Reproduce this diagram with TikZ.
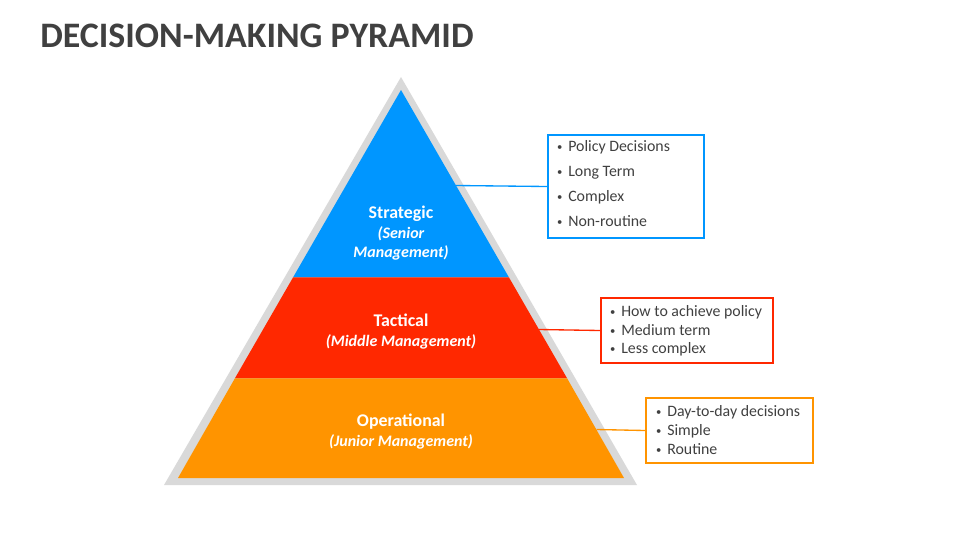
\documentclass[tikz,border=0pt]{standalone}
\usepackage{fontspec}
\setmainfont{Carlito}
\definecolor{stratblue}{RGB}{0,150,255}
\definecolor{tactred}{RGB}{255,40,0}
\definecolor{operorange}{RGB}{255,148,0}
\definecolor{pyrgray}{RGB}{217,217,217}
\definecolor{inkgray}{RGB}{64,64,64}
\tikzset{
  levellabel/.style={anchor=base,inner sep=0pt,text=white,font=\fontsize{13.4}{15}\selectfont\bfseries},
  levelsub/.style={levellabel,font=\fontsize{12}{14}\selectfont\bfseries\itshape},
  infobox/.style={draw=#1,line width=1.5pt,anchor=north west,inner sep=0pt},
  infoline/.style={anchor=base west,inner sep=0pt,text=inkgray,font=\fontsize{11.9}{13}\selectfont},
  linkline/.style={draw=#1,line width=1pt}
}
\newcommand{\bul}{\makebox[9pt][l]{\hspace{0.6pt}\raisebox{0.6pt}{\fontsize{8}{8}\selectfont\textbullet}}}
\begin{document}
\begin{tikzpicture}[x=0.75pt,y=-0.75pt]
\useasboundingbox (0,0) rectangle (960,540);

\node[anchor=base west,inner sep=0pt,text=inkgray,font=\fontsize{26.9}{32}\selectfont\bfseries] (title) at (40,47) {DECISION-MAKING PYRAMID};

% pyramid
\draw[fill=pyrgray,draw=none] (401,77) -- (637,485) -- (164,485) -- cycle;
\draw[fill=stratblue,draw=none] (401,90) -- (508.9,277.3) -- (293.1,277.3) -- cycle;
\draw[fill=tactred,draw=none] (293.1,277.3) -- (508.9,277.3) -- (567.1,378.3) -- (234.9,378.3) -- cycle;
\draw[fill=operorange,draw=none] (234.9,378.3) -- (567.1,378.3) -- (624,478) -- (178,478) -- cycle;

\node[levellabel] (strat) at (401,218) {Strategic};
\node[levelsub] (stratsub1) at (401,238) {(Senior};
\node[levelsub] (stratsub2) at (401,257) {Management)};
\node[levellabel] (tact) at (401,326) {Tactical};
\node[levelsub] (tactsub) at (401,346) {(Middle Management)};
\node[levellabel] (oper) at (401,426) {Operational};
\node[levelsub] (opersub) at (401,446) {(Junior Management)};

% side boxes
\node[infobox=stratblue,minimum width=117pt,minimum height=77.25pt] (sbox) at (547,134) {};
\node[infoline] (s1) at (556,151.7) {\bul Policy Decisions};
\node[infoline] (s2) at (556,176.7) {\bul Long Term};
\node[infoline] (s3) at (556,201.7) {\bul Complex};
\node[infoline] (s4) at (556,226.7) {\bul Non-routine};

\node[infobox=tactred,minimum width=129pt,minimum height=48.75pt] (tbox) at (600,297) {};
\node[infoline] (t1) at (609,316.7) {\bul How to achieve policy};
\node[infoline] (t2) at (609,335) {\bul Medium term};
\node[infoline] (t3) at (609,353.3) {\bul Less complex};

\node[infobox=operorange,minimum width=125.25pt,minimum height=48.75pt] (obox) at (645,397) {};
\node[infoline] (o1) at (655,416.7) {\bul Day-to-day decisions};
\node[infoline] (o2) at (655,435) {\bul Simple};
\node[infoline] (o3) at (655,454) {\bul Routine};

% connectors
\coordinate (sedge) at (455.7,185.5);
\coordinate (tedge) at (539,329.5);
\coordinate (oedge) at (596.5,429.5);
\draw[linkline=stratblue] (sedge) -- (sbox.west);
\draw[linkline=tactred] (tedge) -- (tbox.west);
\draw[linkline=operorange] (oedge) -- (obox.west);

\end{tikzpicture}
\end{document}
